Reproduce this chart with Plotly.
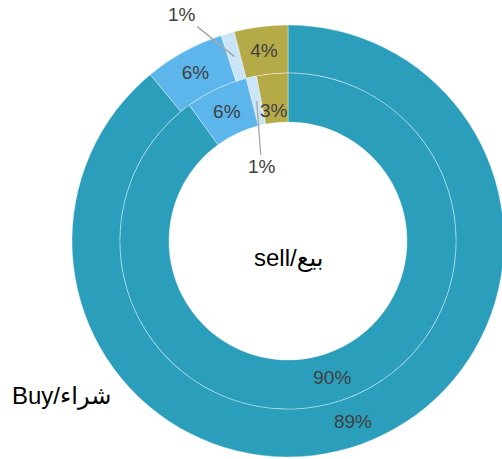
import math
import plotly.graph_objects as go

# ---- data ----
categories = ["Cat A", "Cat B", "Cat C", "Cat D"]
outer_values = [89, 6, 1, 4]     # outer ring
inner_values = [90, 6, 1, 3]     # inner ring
colors = ["#2a9ebb", "#5cb6ec", "#c9e5f6", "#b5aa48"]
center_label = "sell/بيع"
corner_label = "Buy/شراء"

# ---- layout geometry (pixels) ----
W, H = 506, 459
CX, CY = 288, 241          # centre from top-left
R_OUT, R_MID, R_IN = 216, 168, 119

def xdom(r):
    return [(CX - r) / W, (CX + r) / W]

def ydom(r):
    cyb = H - CY
    return [(cyb - r) / H, (cyb + r) / H]

font_fam = "Liberation Sans, DejaVu Sans, Arial, sans-serif"
pct_font = dict(family=font_fam, size=19, color="#404040")

def templ(vals):
    # small slices are labelled separately (annotations)
    return ["" if v <= 3 else "%{value}%" for v in vals]

border = dict(color="rgba(255,255,255,0.45)", width=0.8)

fig = go.Figure()
fig.add_trace(go.Pie(
    labels=categories, values=outer_values, sort=False, direction="clockwise",
    rotation=0, hole=R_MID / R_OUT,
    domain=dict(x=xdom(R_OUT), y=ydom(R_OUT)),
    marker=dict(colors=colors, line=border),
    texttemplate=templ(outer_values), textposition="inside",
    insidetextorientation="horizontal",
    textfont=pct_font,
    showlegend=False, hoverinfo="skip",
))
fig.add_trace(go.Pie(
    labels=categories, values=inner_values, sort=False, direction="clockwise",
    rotation=0, hole=R_IN / R_MID,
    domain=dict(x=xdom(R_MID), y=ydom(R_MID)),
    marker=dict(colors=colors, line=border),
    texttemplate=templ(inner_values), textposition="inside",
    insidetextorientation="horizontal",
    textfont=pct_font,
    showlegend=False, hoverinfo="skip",
))

def slice_point(values, idx, r):
    tot = sum(values)
    start = sum(values[:idx])
    mid = (start + values[idx] / 2) / tot * 2 * math.pi
    px = CX + r * math.sin(mid)
    py = CY - r * math.cos(mid)
    return px / W, (H - py) / H

annotations = []
# outer 1%
ox, oy = slice_point(outer_values, 2, (R_OUT + R_MID) / 2)
annotations.append(dict(x=ox, y=oy, xref="paper", yref="paper", text=f"{outer_values[2]}%",
                        showarrow=True, arrowhead=0, arrowwidth=1.3, arrowcolor="#a6a6a6",
                        ax=-52, ay=-42, font=pct_font))
# inner 1%
ix, iy = slice_point(inner_values, 2, (R_MID + R_IN) / 2)
annotations.append(dict(x=ix, y=iy, xref="paper", yref="paper", text=f"{inner_values[2]}%",
                        showarrow=True, arrowhead=0, arrowwidth=1.3, arrowcolor="#a6a6a6",
                        ax=5, ay=66, font=pct_font))
# inner 3% (kept full size)
tx, ty = slice_point(inner_values, 3, (R_MID + R_IN) / 2)
annotations.append(dict(x=tx, y=ty, xref="paper", yref="paper", text=f"{inner_values[3]}%",
                        showarrow=False, font=pct_font))
annotations.append(dict(x=CX / W, y=(H - CY - 17) / H, xref="paper", yref="paper",
                        text=center_label, showarrow=False,
                        font=dict(family=font_fam, size=24, color="#000000")))
annotations.append(dict(x=10 / W, y=(H - 412) / H, xref="paper", yref="paper",
                        text=corner_label, showarrow=False, xanchor="left",
                        font=dict(family=font_fam, size=24, color="#000000")))

fig.update_layout(
    width=W, height=H, margin=dict(l=0, r=0, t=0, b=0),
    paper_bgcolor="white", plot_bgcolor="white",
    annotations=annotations,
)

fig.write_html("out.html", config={"displayModeBar": False},
               post_script="document.body.style.margin='0';document.body.style.overflow='hidden';")
